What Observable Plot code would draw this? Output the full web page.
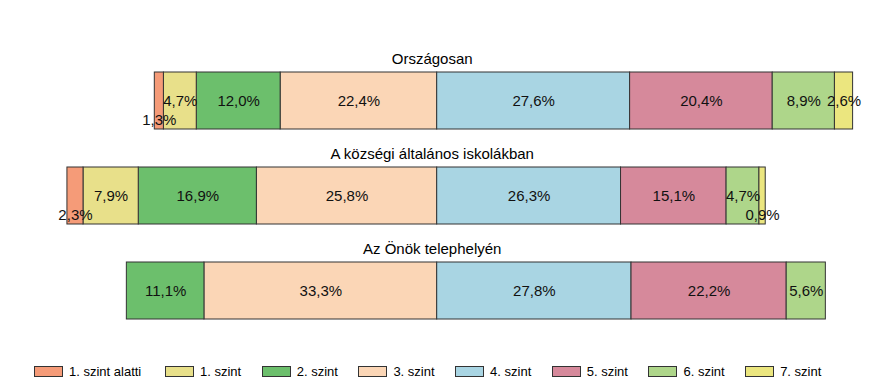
<!DOCTYPE html>
<html>
<head>
<meta charset="utf-8">
<script src="https://cdn.jsdelivr.net/npm/d3@7"></script>
<script src="https://cdn.jsdelivr.net/npm/@observablehq/plot@0.6"></script>
<style>
  html, body { margin: 0; padding: 0; background: #fff; }
  #wrap { position: relative; width: 869px; height: 391px; font-family: "Liberation Sans", Arial, sans-serif; }
  #legend { position: absolute; left: 34px; top: 364px; display: flex; font-size: 13px; color: #000; }
  .item { display: flex; align-items: center; width: 96.7px; }
  .item:first-child { width: 131px; }
  .sw { width: 27px; height: 9px; border: 1px solid #333; margin-right: 6px; }
</style>
</head>
<body>
<div id="wrap"><div id="chart"></div><div id="legend"></div></div>
<script>
const levels = ["1. szint alatti", "1. szint", "2. szint", "3. szint", "4. szint", "5. szint", "6. szint", "7. szint"];
const groups = ["Országosan", "A községi általános iskolákban", "Az Önök telephelyén"];
const orszagosan = [1.3, 4.7, 12.0, 22.4, 27.6, 20.4, 8.9, 2.6];
const kozsegi = [2.3, 7.9, 16.9, 25.8, 26.3, 15.1, 4.7, 0.9];
const onok = [0, 0, 11.1, 33.3, 27.8, 22.2, 5.6, 0];
const colors = ["#F59B78", "#E8E08A", "#6CBF6C", "#FBD6B6", "#A9D5E3", "#D6899B", "#AED68A", "#EBE67F"];

const series = [orszagosan, kozsegi, onok];
const rows = [];
groups.forEach((g, gi) => {
  const vals = series[gi];
  // diverging: levels 0..3 to the left of zero, 4..7 to the right
  let left = 0;
  for (let i = 3; i >= 0; i--) {
    const v = vals[i];
    if (v > 0) rows.push({group: g, level: levels[i], value: v, x1: left - v, x2: left});
    left -= v;
  }
  let right = 0;
  for (let i = 4; i < 8; i++) {
    const v = vals[i];
    if (v > 0) rows.push({group: g, level: levels[i], value: v, x1: right, x2: right + v});
    right += v;
  }
});
const fmt = v => v.toFixed(1).replace(".", ",") + "%";

const chart = Plot.plot({
  width: 869,
  height: 352,
  margin: 0,
  style: {fontFamily: "'Liberation Sans', Arial, sans-serif", background: "#fff"},
  x: {domain: [-60, 60], range: [17.3, 856.1], axis: null},
  y: {domain: groups, range: [52.5, 337.5], paddingInner: 0.4, paddingOuter: 0.2, axis: null},
  color: {domain: levels, range: colors},
  marks: [
    Plot.barX(rows, {x1: "x1", x2: "x2", y: "group", fill: "level", stroke: "#333", strokeWidth: 1}),
    Plot.text(rows.filter(d => d.value >= 2.5), {
      x: d => (d.x1 + d.x2) / 2, y: "group", text: d => fmt(d.value),
      fontSize: 15, fill: "#111"
    }),
    Plot.text(rows.filter(d => d.value < 2.5), {
      x: d => (d.x1 + d.x2) / 2, y: "group", text: d => fmt(d.value),
      dy: 19, fontSize: 15, fill: "#111"
    }),
    Plot.text(groups, {x: () => 0, y: d => d, text: d => d, dy: -42, dx: -5, fontSize: 15, fill: "#000"})
  ]
});
document.getElementById("chart").appendChild(chart);

const legend = document.getElementById("legend");
levels.forEach((l, i) => {
  const it = document.createElement("div");
  it.className = "item";
  const sw = document.createElement("div");
  sw.className = "sw";
  sw.style.background = colors[i];
  const t = document.createElement("span");
  t.textContent = l;
  it.appendChild(sw); it.appendChild(t);
  legend.appendChild(it);
});
</script>
</body>
</html>
